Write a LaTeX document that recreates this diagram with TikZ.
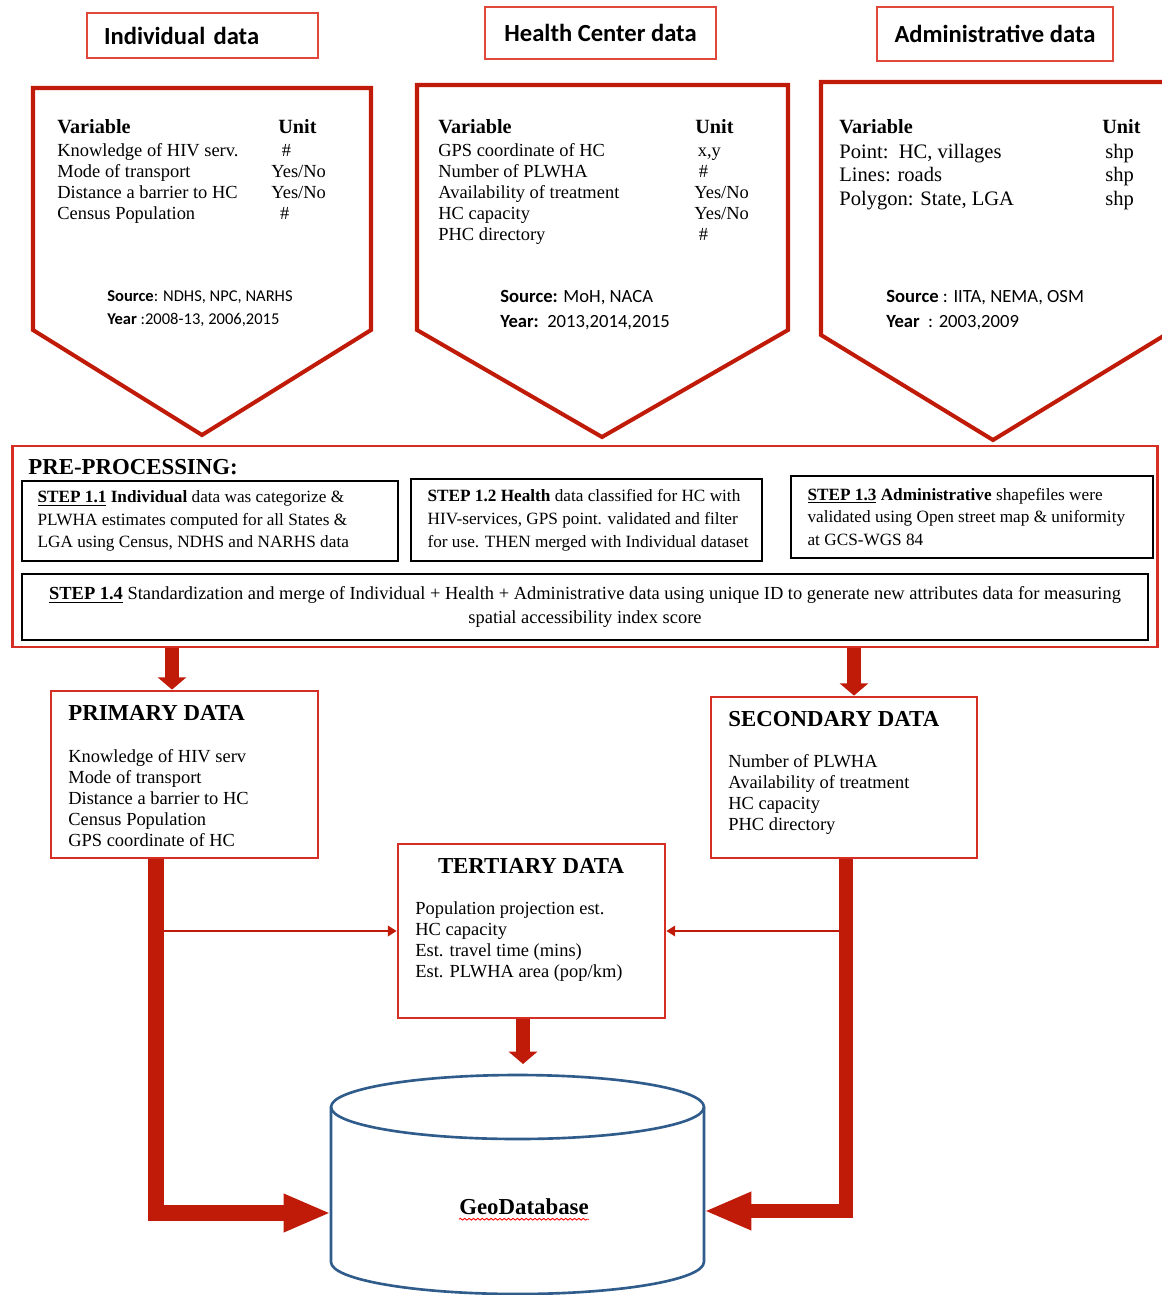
\documentclass[tikz,border=0pt]{standalone}
\usepackage{fontspec}
\setmainfont{Liberation Serif}
\newfontfamily\calib{Carlito}
\usetikzlibrary{arrows.meta,decorations.pathmorphing}
\definecolor{arrred}{RGB}{192,26,8}
\definecolor{boxred}{RGB}{214,46,36}
\definecolor{hdrred}{RGB}{224,72,60}
\definecolor{dbblue}{RGB}{48,92,140}

\begin{document}
\begin{tikzpicture}[x=0.02cm, y=-0.02cm,
    hdr/.style={draw=hdrred, line width=0.9pt, font=\calib\fontsize{14}{16}\selectfont\bfseries},
    pent/.style={draw=arrred, line width=2.3pt, line join=miter},
    varhead/.style={anchor=base west, inner sep=0, font=\fontsize{11.5}{13}\selectfont\bfseries},
    varlist/.style={anchor=base west, inner sep=0, align=left, font=\fontsize{10.5}{12}\selectfont},
    srcnote/.style={anchor=base west, inner sep=0, align=left, font=\calib\fontsize{10.6}{13.7}\selectfont},
    stepbox/.style={draw=black, line width=0.9pt},
    steptext/.style={anchor=west, inner sep=0, align=left, font=\fontsize{9.8}{13}\selectfont},
    databox/.style={draw=boxred, line width=1.6pt},
    boxtitle/.style={anchor=base west, inner sep=0, font=\fontsize{13}{15}\selectfont\bfseries},
    fatarrow/.style={draw=arrred, line width=8pt, -{Triangle[length=7pt,width=16pt]}},
    bigarrow/.style={draw=arrred, line width=9pt, line join=miter, -{Triangle[length=27pt,width=20pt]}},
    thinarrow/.style={draw=arrred, line width=1.1pt, -{Triangle[length=5pt,width=6pt]}}]
    \useasboundingbox (0,0) rectangle (1161,1295);

    % source headers
    \node[hdr, text width=3.94cm, inner xsep=0.34cm, align=left, minimum height=0.9cm] (indivhdr) at (202.5,35.5) {Individual data};
    \node[hdr, minimum width=4.62cm, minimum height=1.04cm] (hchdr) at (600.5,33) {Health Center data};
    \node[hdr, minimum width=4.72cm, minimum height=1.08cm] (admhdr) at (995,34) {Administrative data};

    % pentagons (multi-line nodes sit on their last baseline)
    \draw[pent] (33,88) -- (371,88) -- (371,330) -- (202,435) -- (33,330) -- cycle;
    \draw[pent] (417,85) -- (788,85) -- (788,330) -- (602,437) -- (417,330) -- cycle;
    \draw[pent] (821,82) -- (1165,82) -- (1165,335) -- (993,440) -- (821,335) -- cycle;

    \node[varhead] (indivvar) at (57,133) {Variable};
    \node[varhead] (indivunit) at (278,133) {Unit};
    \node[varlist] (indivlist) at (57,219.3) {Knowledge of HIV serv.\\Mode of transport\\Distance a barrier to HC\\Census Population};
    \node[varlist] (indivunits) at (271,219.3) {\hspace{6pt}\#\\Yes/No\\Yes/No\\\hspace{5pt}\#};
    \node[srcnote, font=\calib\fontsize{9.4}{13}\selectfont] (indivsrc) at (107,324) {\textbf{Source}: NDHS, NPC, NARHS\\\textbf{Year} :2008-13, 2006,2015};

    \node[varhead] (hcvar) at (438,133) {Variable};
    \node[varhead] (hcunit) at (695,133) {Unit};
    \node[varlist] (hclist) at (438,240.4) {GPS coordinate of HC\\Number of PLWHA\\Availability of treatment\\HC capacity\\PHC directory};
    \node[varlist] (hcunits) at (694,240.4) {\hspace{2pt}x,y\\\hspace{2.5pt}\#\\Yes/No\\Yes/No\\\hspace{2.5pt}\#};
    \node[srcnote] (hcsrc) at (500,327) {\textbf{Source:} MoH, NACA\\\textbf{Year:}\ \ 2013,2014,2015};

    \node[varhead] (admvar) at (839,133) {Variable};
    \node[varhead] (admunit) at (1102,133) {Unit};
    \node[varlist, font=\fontsize{11.7}{13.4}\selectfont] (admlist) at (839,205.1) {Point:\ \ HC, villages\\Lines: roads\\Polygon: State, LGA};
    \node[varlist, font=\fontsize{11.7}{13.4}\selectfont] (admunits) at (1105,205.1) {shp\\shp\\shp};
    \node[srcnote] (admsrc) at (886,327) {\textbf{Source} : IITA, NEMA, OSM\\\textbf{Year}\ \ : 2003,2009};

    % pre-processing
    \node[draw=boxred, line width=1.6pt, minimum width=22.92cm, minimum height=4.02cm] (pre) at (585,546.5) {};
    \node[boxtitle] (prelabel) at (28,474) {PRE-PROCESSING:};
    \node[stepbox, minimum width=7.52cm, minimum height=1.6cm] (step11) at (210,521) {};
    \node[steptext] (step11txt) at ([xshift=0.32cm]step11.west) {\underline{\textbf{STEP 1.1}} \textbf{Individual} data was categorize \&\\PLWHA estimates computed for all States \&\\LGA using Census, NDHS and NARHS data};
    \node[stepbox, minimum width=7.02cm, minimum height=1.64cm] (step12) at (586.5,520) {};
    \node[steptext] (step12txt) at ([xshift=0.34cm]step12.west) {\textbf{STEP 1.2 Health} data classified for HC with\\HIV-services, GPS point. validated and filter\\for use. THEN merged with Individual dataset};
    \node[stepbox, minimum width=7.24cm, minimum height=1.64cm] (step13) at (972,517) {};
    \node[steptext] (step13txt) at ([xshift=0.34cm]step13.west) {\underline{\textbf{STEP 1.3}} \textbf{Administrative} shapefiles were\\validated using Open street map \& uniformity\\at GCS-WGS 84};
    \node[stepbox, align=center, minimum width=22.52cm, minimum height=1.32cm, font=\fontsize{10.5}{13.7}\selectfont] (step14) at (585,607) {\underline{\textbf{STEP 1.4}} Standardization and merge of Individual + Health + Administrative data using unique ID to generate new attributes data for measuring\\spatial accessibility index score};

    % data boxes
    \node[databox, minimum width=5.34cm, minimum height=3.34cm] (primary) at (184.5,774.5) {};
    \node[boxtitle] (primtitle) at (68,720) {PRIMARY DATA};
    \node[varlist] (primlist) at (68,846.4) {Knowledge of HIV serv\\Mode of transport\\Distance a barrier to HC\\Census Population\\GPS coordinate of HC};

    \node[databox, minimum width=5.32cm, minimum height=3.22cm] (secondary) at (844,777.5) {};
    \node[boxtitle] (sectitle) at (728,726) {SECONDARY DATA};
    \node[varlist] (seclist) at (728,830.3) {Number of PLWHA\\Availability of treatment\\HC capacity\\PHC directory};

    \node[databox, minimum width=5.34cm, minimum height=3.48cm] (tertiary) at (531.5,931) {};
    \node[boxtitle, anchor=base] (tertitle) at (531,873) {TERTIARY DATA};
    \node[varlist] (terlist) at (415,977.3) {Population projection est.\\HC capacity\\Est. travel time (mins)\\Est. PLWHA area (pop/km)};

    % geodatabase
    \draw[dbblue, line width=1.5pt] (517.5,1107) ellipse [x radius=3.73cm, y radius=0.64cm];
    \draw[dbblue, line width=1.5pt] (331,1107) -- (331,1262) arc[start angle=180, end angle=360, x radius=3.73cm, y radius=0.64cm] -- (704,1107);
    \node[inner sep=0, font=\fontsize{13}{15}\selectfont\bfseries] (db) at (524,1207) {GeoDatabase};
    \draw[red, line width=0.5pt, decorate, decoration={snake, amplitude=0.5pt, segment length=2.5pt}] ([yshift=-2.5pt]db.base west) -- ([yshift=-2.5pt]db.base east);

    \coordinate (leftdrop) at (172,650);
    \coordinate (rightdrop) at (854,650);
    \coordinate (pbar) at (156,858);
    \coordinate (sbar) at (846,852);
    \coordinate (dbl) at (331,1213);
    \coordinate (dbr) at (704,1211);
    \coordinate (dbtop) at (523,1064);

    \draw[fatarrow] (pre.south -| leftdrop) -- (primary.north -| leftdrop);
    \draw[fatarrow] (pre.south -| rightdrop) -- (secondary.north -| rightdrop);
    \draw[fatarrow] (tertiary.south -| dbtop) -- (dbtop);
    \draw[thinarrow] (tertiary.west -| pbar) -- (tertiary.west);
    \draw[thinarrow] (tertiary.east -| sbar) -- (tertiary.east);
    \draw[bigarrow] (primary.south -| pbar) |- (dbl);
    \draw[bigarrow, line width=8pt] (secondary.south -| sbar) |- (dbr);
\end{tikzpicture}
\end{document}
